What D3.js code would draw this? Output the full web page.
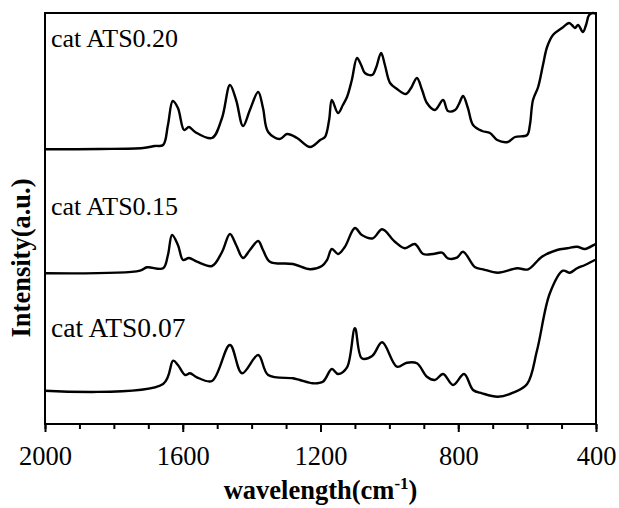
<!DOCTYPE html>
<html>
<head>
<meta charset="utf-8">
<script src="https://cdn.jsdelivr.net/npm/d3@7"></script>
<style>
  html, body { margin: 0; padding: 0; background: #fff; }
  svg { display: block; }
  text { font-family: "Liberation Serif", "Times New Roman", serif; fill: #000; }
</style>
</head>
<body>
<svg id="chart" width="619" height="508"></svg>
<script>
// ---------------- data (wavenumber cm-1, intensity a.u.) ----------------
const seriesNames = ["cat ATS0.20", "cat ATS0.15", "cat ATS0.07"];

const wn020 = [2000,1840,1715,1681,1657,1643,1629,1614,1596,1582,1564,1515,1486,1463,1445,1425,1405,1381,1367,1352,1318,1297,1268,1230,1201,1187,1175,1167,1149,1135,1123,1109,1094,1082,1071,1050,1039,1024,1013,998,978,952,937,920,905,891,868,844,830,809,798,786,772,757,731,708,687,656,635,600,592,583,568,554,542,525,499,478,470,461,452,438,429,420,409,400];
const int020 = [274.7,275,276,278,279,299,323,316,294,297,292,286,306,339,324,298,314,332,316,292,285,290,286,277,284,287,304,324,311,319,327,344,366,359,351,349,356,371,359,341,335,330,336,346,334,321,314,324,313,314,320,328,316,299,293,291,284,282,287,289,299,324,337,359,377,389,396,401,399,396,399,392,399,409,411,410];

const wn015 = [2000,1724,1704,1657,1643,1631,1614,1599,1582,1559,1515,1486,1463,1445,1425,1405,1381,1367,1347,1280,1230,1196,1181,1167,1149,1129,1100,1080,1048,1021,984,955,926,902,873,847,830,804,786,751,728,685,629,597,557,513,484,455,432,403,400];
const int015 = [150.7,153.3,156.7,155.7,169,189,179,164,166,162.3,158,172,190,179,166,174,183,174,162.3,160,154.7,158,164,175,170,177.3,196,189,185.7,194.7,182.3,175.7,180,170,170,171.3,165.7,166.3,172.3,156.7,154.7,151.3,155.7,154.7,167.3,174,175.7,177.3,175,179.7,180];

const wn007 = [2000,1657,1628,1614,1593,1579,1559,1515,1463,1428,1381,1352,1280,1260,1222,1193,1167,1149,1123,1100,1080,1050,1021,978,949,920,891,868,844,815,783,757,731,685,641,600,571,534,496,476,455,432,403,400];
const int007 = [33.3,40,63.3,59,49,50.7,46.7,43,79,50.7,69,49,45.7,44,40.7,42.3,55,50,56.7,95.7,65.7,68,81.7,57.3,61.3,60.7,47.3,44,50,39,50,34,30.7,27.3,31.3,40,74,130.7,153.3,151.3,155.7,159,164,164.3];

const xTicks = [2000, 1600, 1200, 800, 400];
const xMinorTicks = d3.range(2000, 399, -100);
const xTitle = "wavelength(cm";
const yTitle = "Intensity(a.u.)";

// ---------------- layout ----------------
const svg = d3.select("#chart");
const mLeft = 45, mRight = 596, mTop = 13, mBottom = 424;

const x = d3.scaleLinear().domain([2000, 400]).range([mLeft, mRight]);
const y = d3.scaleLinear().domain([0, 411]).range([mBottom, mTop]);

const series = [
  { name: seriesNames[0], wn: wn020, v: int020, lx: 51, ly: 46.5, fs: 26 },
  { name: seriesNames[1], wn: wn015, v: int015, lx: 51, ly: 215, fs: 26 },
  { name: seriesNames[2], wn: wn007, v: int007, lx: 51, ly: 337, fs: 27.5 }
];

const line = d3.line()
  .x(d => x(d[0]))
  .y(d => y(d[1]))
  .curve(d3.curveCatmullRom.alpha(0.5));

series.forEach(s => {
  const pts = s.wn.map((w, i) => [w, s.v[i]]);
  svg.append("path")
    .attr("d", line(pts))
    .attr("fill", "none")
    .attr("stroke", "#000")
    .attr("stroke-width", 2.4)
    .attr("stroke-linejoin", "round");
  svg.append("text")
    .attr("x", s.lx)
    .attr("y", s.ly)
    .attr("font-size", s.fs)
    .text(s.name);
});

// minor ticks
const minorAxis = d3.axisBottom(x).tickValues(xMinorTicks).tickSize(5).tickFormat("");
const gMinor = svg.append("g").attr("transform", `translate(0,${mBottom})`).call(minorAxis);
gMinor.select(".domain").remove();
gMinor.selectAll("line").attr("stroke", "#000").attr("stroke-width", 2);

// major ticks
const majorAxis = d3.axisBottom(x).tickValues(xTicks).tickSize(8).tickFormat(d3.format("d"));
const gMajor = svg.append("g").attr("transform", `translate(0,${mBottom})`).call(majorAxis);
gMajor.select(".domain").remove();
gMajor.selectAll("line").attr("stroke", "#000").attr("stroke-width", 2);
gMajor.selectAll("text")
  .attr("y", 41)
  .attr("dy", null)
  .attr("font-size", 26.5)
  .attr("font-family", "Liberation Serif, Times New Roman, serif")
  .attr("fill", "#111");

// frame
svg.append("rect")
  .attr("x", mLeft).attr("y", mTop)
  .attr("width", mRight - mLeft).attr("height", mBottom - mTop)
  .attr("fill", "none").attr("stroke", "#000").attr("stroke-width", 2);

// x title
const xt = svg.append("text")
  .attr("x", (mLeft + mRight) / 2)
  .attr("y", 499)
  .attr("text-anchor", "middle")
  .attr("font-size", 26.5)
  .attr("font-weight", "bold");
xt.append("tspan").text(xTitle);
xt.append("tspan").attr("font-size", 17).attr("dy", -10).text("-1");
xt.append("tspan").attr("dy", 10).text(")");

// y title
svg.append("text")
  .attr("transform", `translate(30,258) rotate(-90)`)
  .attr("text-anchor", "middle")
  .attr("font-size", 26.5)
  .attr("font-weight", "bold")
  .text(yTitle);
</script>
</body>
</html>
